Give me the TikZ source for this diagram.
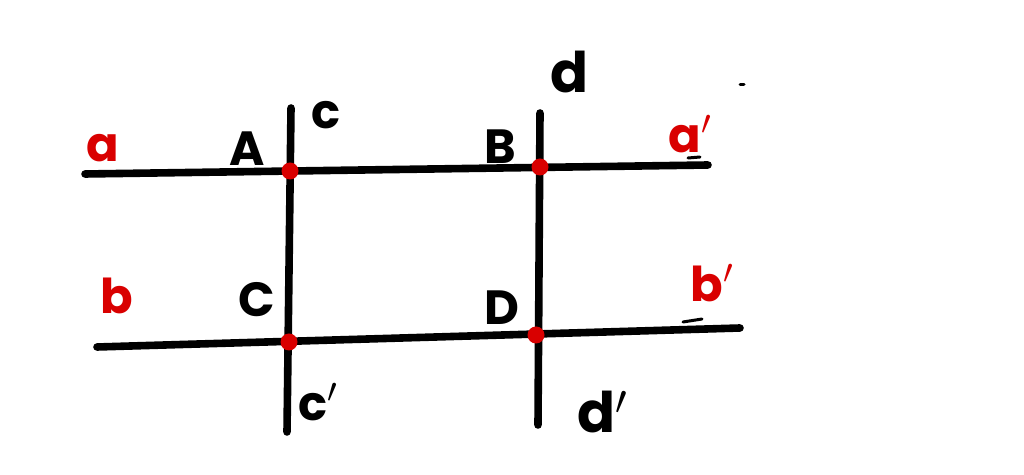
\documentclass[tikz,border=0pt]{standalone}
\usepackage{fontspec}
\setsansfont{Poppins}
\begin{document}
\begin{tikzpicture}[x=0.5pt,y=-0.5pt,
  ln/.style={line width=3.8pt,line cap=round,black},
  pt/.style={circle,fill=red!85!black,inner sep=0pt,minimum size=8.5pt},
  lbk/.style={font=\sffamily\bfseries\fontsize{24}{24}\selectfont,text=black,inner sep=0pt},
  lrd/.style={font=\sffamily\bfseries\fontsize{24}{24}\selectfont,text=red!85!black,inner sep=0pt},
  big/.style={font=\sffamily\bfseries\fontsize{28}{28}\selectfont},
  tick/.style={line width=1.5pt,line cap=round}]
\fill[white] (0,0) rectangle (1024,475);
\useasboundingbox (0,0) rectangle (1024,475);
% line ends
\coordinate (a0) at (85,174);
\coordinate (a1) at (708,165);
\coordinate (b0) at (97,347);
\coordinate (b1) at (740,328);
\coordinate (c0) at (291,108);
\coordinate (c1) at (287,432);
\coordinate (d0) at (540,113);
\coordinate (d1) at (538,425);
\draw[ln] (a0) -- (a1);
\draw[ln] (b0) -- (b1);
\draw[ln] (c0) -- (c1);
\draw[ln] (d0) -- (d1);
% intersection points
\node[pt] (A) at (290,171) {};
\node[pt] (B) at (540,167) {};
\node[pt] (C) at (289,342) {};
\node[pt] (D) at (536,335) {};
% labels
\node[lrd] (la) at (103,148) {a};
\node[lbk] (lA) at (247,149) {A};
\node[lbk] (lc) at (326,115) {c};
\node[lbk] (lB) at (500,147) {B};
\node[lbk,big] (ld) at (570,72) {d};
\node[lrd] (lap) at (690,134) {a$'$};
\node[lrd] (lb) at (117,296) {b};
\node[lbk] (lC) at (257,300) {C};
\node[lbk] (lD) at (502,308) {D};
\node[lrd] (lbp) at (712,283) {b$'$};
\node[lbk] (lcp) at (318,402) {c$'$};
\node[lbk,big] (ldp) at (603,412) {d$'$};
% small stray marks
\coordinate (m1) at (688,158);
\coordinate (m2) at (700,157);
\draw[tick] (m1) -- (m2);
\coordinate (m3) at (683,322);
\coordinate (m4) at (702,319);
\draw[tick] (m3) -- (m4);
\coordinate (m5) at (740,85);
\coordinate (m6) at (744,85);
\draw[tick] (m5) -- (m6);
\end{tikzpicture}
\end{document}
